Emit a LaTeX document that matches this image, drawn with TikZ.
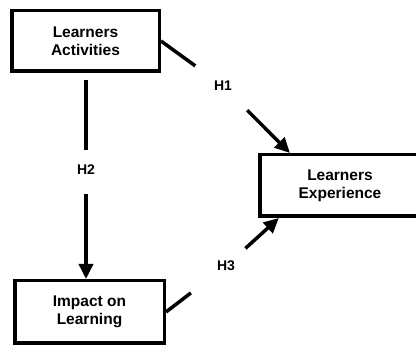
\documentclass[tikz,border=0pt]{standalone}
\usepackage{fontspec}
\setmainfont{Liberation Sans}
\usetikzlibrary{arrows.meta}
\tikzset{>={Triangle[length=15pt,width=14pt]}}
\tikzset{box/.style={draw,align=center,inner sep=0pt,font=\fontsize{15.5}{18}\selectfont\bfseries},
  hyp/.style={circle,inner sep=0pt,font=\fontsize{14}{16}\selectfont\bfseries}}

\begin{document}
\begin{tikzpicture}[x=1pt,y=1pt,line width=3.5pt]
\path[use as bounding box,clip] (0,0) rectangle (416,347);
% the three boxes
\node[box,minimum width=147.5pt,minimum height=60.5pt] (la) at (85.5,306) {Learners\\Activities};
\node[box,minimum width=149.5pt,minimum height=62.5pt] (il) at (89.5,35) {Impact on\\Learning};
\node[box,minimum width=160pt,minimum height=61.5pt] (le) at (340,161.5) {Learners\\Experience};
% hypotheses
\node[hyp,minimum size=65pt] (h1) at (223,261) {H1};
\node[hyp,minimum size=37pt] (h2) at (86,177) {H2};
\node[hyp,minimum size=49pt] (h3) at (226,81) {H3};
\draw (la.east) -- (h1);
\draw[->] (h1) -- (le.147);
\draw[shorten <=7pt] (h2 |- la.south) -- (h2);
\draw[->,shorten <=4pt] (h2) -- (h2 |- il.north);
\draw[shorten >=18pt] (il.east) -- (h3);
\draw[->] (h3) -- (le.208);
\end{tikzpicture}
\end{document}
